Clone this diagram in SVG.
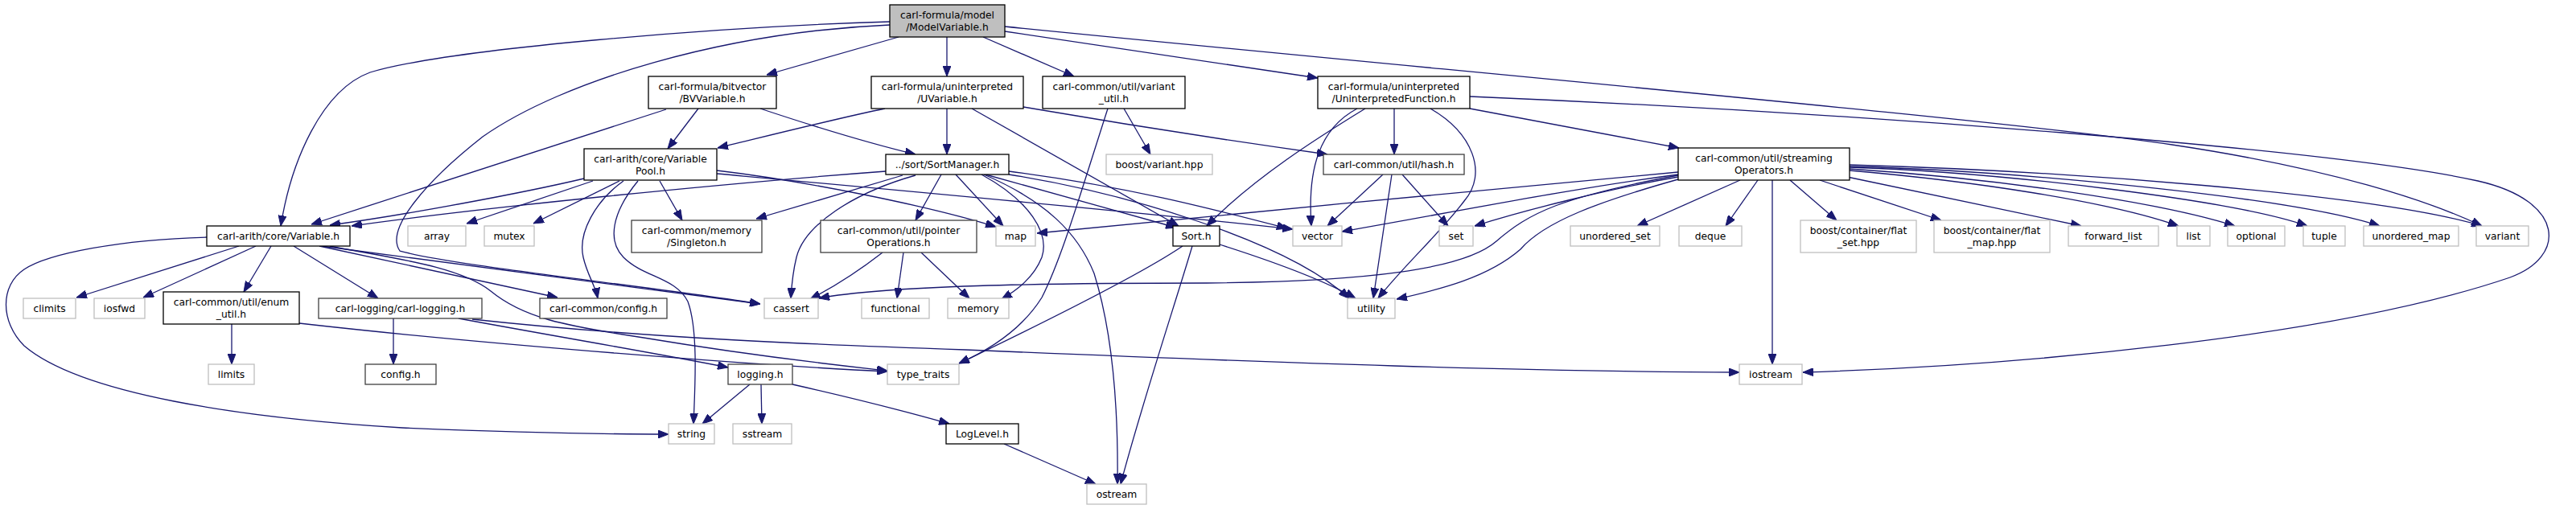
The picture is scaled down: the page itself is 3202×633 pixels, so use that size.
<svg xmlns="http://www.w3.org/2000/svg" width="3202" height="633" viewBox="0 0 3202 633">
<style>
.b{fill:#fff;stroke:#000;stroke-width:1.3}
.d{fill:#fff;stroke:#404040;stroke-width:1.3}
.g{fill:#fff;stroke:#bfbfbf;stroke-width:1.3}
.s{fill:#bfbfbf;stroke:#000;stroke-width:1.3}
text{font-family:"DejaVu Sans","Liberation Sans",sans-serif;font-size:12.3px;fill:#000;text-anchor:middle}
.e path{fill:none;stroke:#191970;stroke-width:1.3;marker-end:url(#a)}
</style>
<defs>
<marker id="a" viewBox="0 0 13 10" refX="13" refY="5" markerWidth="13" markerHeight="10" markerUnits="userSpaceOnUse" orient="auto">
<path d="M0,0 L13,5 L0,10 z" fill="#191970" stroke="#191970" stroke-width="1"/>
</marker>
</defs>
<rect width="3202" height="633" fill="#fff"/>
<g id="edges" class="e">
<path d="M1106,27 C900,33 560,60 460,90 C400,112 362,200 349,281"/>
<path d="M1106,31 C900,40 700,100 600,170 C530,225 478,285 497,312 C560,330 800,355 945,378"/>
<path d="M1117,46 L953,93"/>
<path d="M1177,46 L1177,95"/>
<path d="M1222,46 L1335,95"/>
<path d="M1249,39 L1638,97"/>
<path d="M1249,33 C1800,88 2500,150 2700,180 C2900,210 3020,250 3085,281"/>
<path d="M868,135 L830,185"/>
<path d="M828,136 L387,279"/>
<path d="M945,135 C1020,160 1080,178 1138,192"/>
<path d="M1100,135 C1050,145 950,170 892,184"/>
<path d="M1177,135 L1177,192"/>
<path d="M1208,135 L1465,281"/>
<path d="M1272,133 C1400,155 1550,178 1650,192"/>
<path d="M1397,135 L1430,192"/>
<path d="M1377,135 C1340,250 1320,320 1295,370 C1270,410 1230,435 1192,452"/>
<path d="M1733,135 L1733,192"/>
<path d="M1827,135 L2087,184"/>
<path d="M1687,135 C1640,160 1625,210 1630,281"/>
<path d="M1697,135 C1640,170 1560,220 1500,281"/>
<path d="M1778,135 C1830,165 1850,215 1820,250 C1790,290 1745,330 1713,371"/>
<path d="M1827,120 C2300,140 2900,185 3080,225 C3190,250 3190,320 3120,345 C2900,420 2500,455 2241,463"/>
<path d="M726,222 C650,240 500,268 410,280"/>
<path d="M737,225 L580,278"/>
<path d="M770,225 L663,278"/>
<path d="M775,225 C740,250 718,290 725,320 C730,342 740,355 743,371"/>
<path d="M793,225 C760,265 755,300 775,320 C800,345 840,345 855,375 C868,410 864,480 862,527"/>
<path d="M820,225 L848,274"/>
<path d="M891,212 C1000,225 1150,255 1238,282"/>
<path d="M891,216 C1100,235 1400,262 1607,285"/>
<path d="M1101,213 C900,228 600,258 437,281"/>
<path d="M1122,218 L940,272"/>
<path d="M1138,218 C1060,240 1000,280 990,320 C985,340 984,355 983,371"/>
<path d="M1170,217 L1138,274"/>
<path d="M1188,217 L1247,281"/>
<path d="M1220,217 C1280,250 1305,290 1295,320 C1285,345 1265,360 1245,372"/>
<path d="M1223,217 C1300,250 1340,290 1360,340 C1385,420 1390,520 1389,602"/>
<path d="M1225,217 L1462,283"/>
<path d="M1254,213 C1400,232 1500,258 1600,284"/>
<path d="M1254,217 C1400,240 1600,300 1677,371"/>
<path d="M1719,217 L1650,281"/>
<path d="M1730,217 L1707,371"/>
<path d="M1743,217 L1800,281"/>
<path d="M1470,306 C1420,340 1300,400 1192,452"/>
<path d="M1482,306 C1460,380 1420,500 1393,602"/>
<path d="M1516,304 C1560,318 1640,345 1685,371"/>
<path d="M1097,314 C1070,335 1040,355 1007,372"/>
<path d="M1123,314 L1115,371"/>
<path d="M1145,314 L1205,371"/>
<path d="M2086,214 C1900,230 1500,270 1289,290"/>
<path d="M2086,217 C1950,235 1800,265 1668,288"/>
<path d="M2086,220 C2000,235 1900,260 1833,281"/>
<path d="M2086,218 C1940,245 1900,265 1860,300 C1820,335 1700,350 1500,352 C1300,352 1100,355 1018,371"/>
<path d="M2086,223 C1990,250 1920,275 1890,310 C1850,345 1790,360 1736,372"/>
<path d="M2163,224 L2035,281"/>
<path d="M2185,224 L2145,281"/>
<path d="M2203,224 L2203,453"/>
<path d="M2225,224 L2283,274"/>
<path d="M2262,224 L2413,274"/>
<path d="M2296,220 L2587,281"/>
<path d="M2299,212 C2450,225 2620,250 2708,281"/>
<path d="M2299,210 C2480,222 2680,250 2778,281"/>
<path d="M2299,208 C2500,215 2780,250 2868,281"/>
<path d="M2299,207 C2500,212 2850,245 2958,281"/>
<path d="M2299,205 C2550,212 2950,240 3085,281"/>
<path d="M297,306 L95,370"/>
<path d="M318,306 L178,370"/>
<path d="M337,306 L303,363"/>
<path d="M365,306 L470,371"/>
<path d="M257,295 C150,298 60,315 30,335 C0,355 0,400 30,430 C100,490 300,520 500,532 C650,538 750,540 831,540"/>
<path d="M397,306 L693,370"/>
<path d="M400,306 L945,378"/>
<path d="M410,306 C480,320 570,330 610,362 C650,395 700,405 800,420 C950,445 1050,455 1103,461"/>
<path d="M288,403 L288,453"/>
<path d="M372,402 C600,428 950,455 1103,462"/>
<path d="M489,396 L489,453"/>
<path d="M570,396 C700,420 820,440 905,457"/>
<path d="M587,397 C800,420 1000,428 1200,435 C1600,452 1900,462 2162,463"/>
<path d="M932,478 L873,527"/>
<path d="M946,478 L947,527"/>
<path d="M985,478 C1060,495 1120,510 1180,527"/>
<path d="M1248,552 L1362,602"/>
</g>
<g id="n_modelvar"><rect class="s" x="1106" y="6" width="143" height="40"/><text x="1177.5" y="22.5">carl-formula/model</text><text x="1177.5" y="37.5">/ModelVariable.h</text></g>
<g id="n_bvvar"><rect class="b" x="806" y="95" width="159" height="40"/><text x="885.5" y="111.5">carl-formula/bitvector</text><text x="885.5" y="126.5">/BVVariable.h</text></g>
<g id="n_uvar"><rect class="b" x="1083" y="95" width="189" height="40"/><text x="1177.5" y="111.5">carl-formula/uninterpreted</text><text x="1177.5" y="126.5">/UVariable.h</text></g>
<g id="n_variantutil"><rect class="b" x="1296" y="95" width="177" height="40"/><text x="1384.5" y="111.5">carl-common/util/variant</text><text x="1384.5" y="126.5">_util.h</text></g>
<g id="n_uf"><rect class="b" x="1638" y="95" width="189" height="40"/><text x="1732.5" y="111.5">carl-formula/uninterpreted</text><text x="1732.5" y="126.5">/UninterpretedFunction.h</text></g>
<g id="n_varpool"><rect class="b" x="726" y="185" width="165" height="39"/><text x="808.5" y="201.5">carl-arith/core/Variable</text><text x="808.5" y="216.5">Pool.h</text></g>
<g id="n_sortmgr"><rect class="b" x="1101" y="192" width="153" height="25"/><text x="1177.5" y="208.5">../sort/SortManager.h</text></g>
<g id="n_boostvariant"><rect class="g" x="1375" y="192" width="132" height="25"/><text x="1441" y="208.5">boost/variant.hpp</text></g>
<g id="n_hash"><rect class="d" x="1645" y="192" width="175" height="25"/><text x="1732.5" y="208.5">carl-common/util/hash.h</text></g>
<g id="n_streaming"><rect class="b" x="2086" y="184" width="213" height="40"/><text x="2192.5" y="200.5">carl-common/util/streaming</text><text x="2192.5" y="215.5">Operators.h</text></g>
<g id="n_variable"><rect class="b" x="257" y="281" width="178" height="25"/><text x="346" y="297.5">carl-arith/core/Variable.h</text></g>
<g id="n_array"><rect class="g" x="507" y="281" width="72" height="25"/><text x="543" y="297.5">array</text></g>
<g id="n_mutex"><rect class="g" x="602" y="281" width="62" height="25"/><text x="633" y="297.5">mutex</text></g>
<g id="n_singleton"><rect class="d" x="785" y="274" width="162" height="40"/><text x="866" y="290.5">carl-common/memory</text><text x="866" y="305.5">/Singleton.h</text></g>
<g id="n_pointer"><rect class="d" x="1020" y="274" width="194" height="40"/><text x="1117" y="290.5">carl-common/util/pointer</text><text x="1117" y="305.5">Operations.h</text></g>
<g id="n_map"><rect class="g" x="1238" y="281" width="49" height="25"/><text x="1262.5" y="297.5">map</text></g>
<g id="n_sort"><rect class="b" x="1458" y="281" width="58" height="25"/><text x="1487" y="297.5">Sort.h</text></g>
<g id="n_vector"><rect class="g" x="1607" y="281" width="61" height="25"/><text x="1637.5" y="297.5">vector</text></g>
<g id="n_set"><rect class="g" x="1789" y="281" width="42" height="25"/><text x="1810" y="297.5">set</text></g>
<g id="n_unordered_set"><rect class="g" x="1952" y="281" width="111" height="25"/><text x="2007.5" y="297.5">unordered_set</text></g>
<g id="n_deque"><rect class="g" x="2087" y="281" width="78" height="25"/><text x="2126" y="297.5">deque</text></g>
<g id="n_flatset"><rect class="g" x="2238" y="274" width="144" height="40"/><text x="2310" y="290.5">boost/container/flat</text><text x="2310" y="305.5">_set.hpp</text></g>
<g id="n_flatmap"><rect class="g" x="2404" y="274" width="144" height="40"/><text x="2476" y="290.5">boost/container/flat</text><text x="2476" y="305.5">_map.hpp</text></g>
<g id="n_forward_list"><rect class="g" x="2571" y="281" width="112" height="25"/><text x="2627" y="297.5">forward_list</text></g>
<g id="n_list"><rect class="g" x="2706" y="281" width="41" height="25"/><text x="2726.5" y="297.5">list</text></g>
<g id="n_optional"><rect class="g" x="2769" y="281" width="71" height="25"/><text x="2804.5" y="297.5">optional</text></g>
<g id="n_tuple"><rect class="g" x="2863" y="281" width="52" height="25"/><text x="2889" y="297.5">tuple</text></g>
<g id="n_unordered_map"><rect class="g" x="2938" y="281" width="118" height="25"/><text x="2997" y="297.5">unordered_map</text></g>
<g id="n_variant"><rect class="g" x="3078" y="281" width="65" height="25"/><text x="3110.5" y="297.5">variant</text></g>
<g id="n_climits"><rect class="g" x="29" y="371" width="65" height="25"/><text x="61.5" y="387.5">climits</text></g>
<g id="n_iosfwd"><rect class="g" x="117" y="371" width="63" height="25"/><text x="148.5" y="387.5">iosfwd</text></g>
<g id="n_enum"><rect class="b" x="203" y="363" width="169" height="40"/><text x="287.5" y="379.5">carl-common/util/enum</text><text x="287.5" y="394.5">_util.h</text></g>
<g id="n_carllogging"><rect class="d" x="396" y="371" width="203" height="25"/><text x="497.5" y="387.5">carl-logging/carl-logging.h</text></g>
<g id="n_commonconfig"><rect class="d" x="671" y="371" width="158" height="25"/><text x="750" y="387.5">carl-common/config.h</text></g>
<g id="n_cassert"><rect class="g" x="950" y="371" width="67" height="25"/><text x="983.5" y="387.5">cassert</text></g>
<g id="n_functional"><rect class="g" x="1071" y="371" width="84" height="25"/><text x="1113" y="387.5">functional</text></g>
<g id="n_memory"><rect class="g" x="1178" y="371" width="76" height="25"/><text x="1216" y="387.5">memory</text></g>
<g id="n_utility"><rect class="g" x="1675" y="371" width="59" height="25"/><text x="1704.5" y="387.5">utility</text></g>
<g id="n_limits"><rect class="g" x="259" y="453" width="57" height="25"/><text x="287.5" y="469.5">limits</text></g>
<g id="n_config"><rect class="d" x="454" y="453" width="88" height="25"/><text x="498" y="469.5">config.h</text></g>
<g id="n_logging"><rect class="d" x="905" y="453" width="80" height="25"/><text x="945" y="469.5">logging.h</text></g>
<g id="n_type_traits"><rect class="g" x="1103" y="453" width="89" height="25"/><text x="1147.5" y="469.5">type_traits</text></g>
<g id="n_iostream"><rect class="g" x="2162" y="453" width="78" height="25"/><text x="2201" y="469.5">iostream</text></g>
<g id="n_string"><rect class="g" x="831" y="527" width="57" height="25"/><text x="859.5" y="543.5">string</text></g>
<g id="n_sstream"><rect class="g" x="911" y="527" width="73" height="25"/><text x="947.5" y="543.5">sstream</text></g>
<g id="n_loglevel"><rect class="b" x="1176" y="527" width="90" height="25"/><text x="1221" y="543.5">LogLevel.h</text></g>
<g id="n_ostream"><rect class="g" x="1351" y="602" width="74" height="25"/><text x="1388" y="618.5">ostream</text></g>
</svg>
